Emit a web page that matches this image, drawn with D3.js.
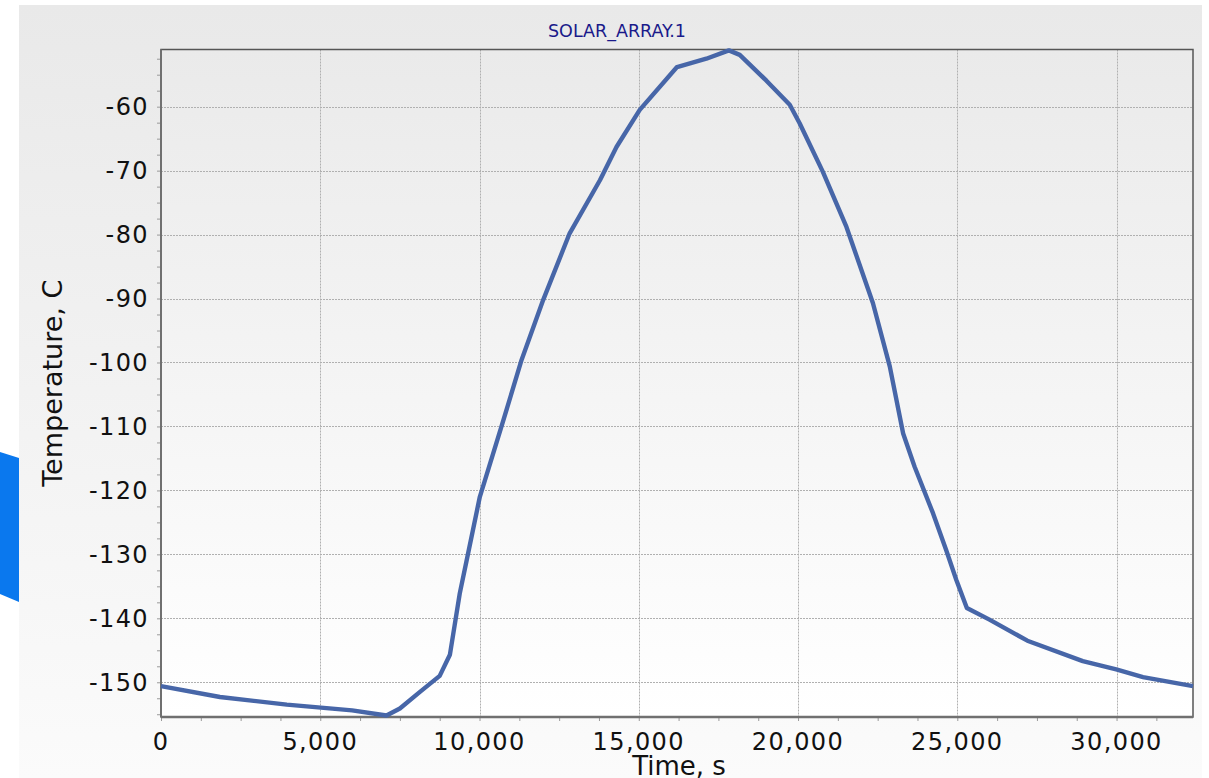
<!DOCTYPE html>
<html><head><meta charset="utf-8">
<script src="https://cdn.jsdelivr.net/npm/d3@7"></script>
<style>html,body{margin:0;padding:0;background:#fff;overflow:hidden}svg{display:block}</style>
</head><body>
<svg id="c" width="1209" height="778"></svg>
<script>
const chartTitle = "SOLAR_ARRAY.1";
const xTitle = "Time, s";
const yTitle = "Temperature, C";
const timeS = [0, 1850, 3950, 6000, 7080, 7500, 8130, 8750, 9070, 9380, 9610, 10010, 10690, 11320, 12000, 12830, 13780, 14300, 15030, 16200, 17120, 17830, 18170, 19000, 19740, 20050, 20780, 21520, 22350, 22880, 23300, 23660, 24240, 24650, 24970, 25300, 26010, 27200, 28940, 29990, 30830, 32400];
const tempC = [-150.6, -152.3, -153.5, -154.4, -155.2, -154.1, -151.5, -149.0, -145.7, -136.1, -130.6, -121.0, -110.0, -99.6, -90.2, -79.8, -71.5, -66.3, -60.5, -53.8, -52.5, -51.2, -51.9, -55.9, -59.7, -62.6, -70.2, -78.8, -90.7, -100.6, -111.1, -116.3, -123.6, -129.3, -134.0, -138.4, -140.2, -143.5, -146.7, -148.0, -149.2, -150.6];
const xTicks = [0, 5000, 10000, 15000, 20000, 25000, 30000];
const yTicks = [-60, -70, -80, -90, -100, -110, -120, -130, -140, -150];
const xDomain = [0, 32400];
const yDomain = [-155.43, -51.06];

const svg = d3.select("#c");
const L = 161, R = 1193, T = 49.5, B = 717;
const x = d3.scaleLinear().domain(xDomain).range([L, R]);
const y = d3.scaleLinear().domain(yDomain).range([B, T]);

const defs = svg.append("defs");
const g1 = defs.append("linearGradient").attr("id","outer").attr("x1",0).attr("y1",0).attr("x2",0).attr("y2",1);
g1.append("stop").attr("offset","0%").attr("stop-color","#e9e9e9");
g1.append("stop").attr("offset","100%").attr("stop-color","#fbfbfb");
const g2 = defs.append("linearGradient").attr("id","inner").attr("x1",0).attr("y1",0).attr("x2",0).attr("y2",1);
g2.append("stop").attr("offset","0%").attr("stop-color","#eaeaea");
g2.append("stop").attr("offset","100%").attr("stop-color","#ffffff");

svg.append("rect").attr("x",19).attr("y",5).attr("width",1183).attr("height",773).attr("fill","url(#outer)");
svg.append("polygon").attr("points","0,452 19,458 19,602 0,594").attr("fill","#0a78ee");
svg.append("rect").attr("x",L).attr("y",T).attr("width",R-L).attr("height",B-T).attr("fill","url(#inner)");

// grid
const grid = svg.append("g").attr("stroke","#b0b0b0").attr("stroke-width",1).attr("stroke-dasharray","2,1");
grid.selectAll("line.gx").data(xTicks.filter(d=>d>0)).join("line")
  .attr("x1",d=>Math.round(x(d))+0.5).attr("x2",d=>Math.round(x(d))+0.5).attr("y1",T).attr("y2",B);
grid.selectAll("line.gy").data(yTicks).join("line")
  .attr("y1",d=>Math.round(y(d))+0.5).attr("y2",d=>Math.round(y(d))+0.5).attr("x1",L).attr("x2",R);

// axes with minor ticks
const xMinor = d3.range(0, xDomain[1]+1, 1250);
const yMinor = d3.range(-155, -51, 2.5);
const xAxis = d3.axisBottom(x).tickValues(xMinor).tickSize(4).tickFormat("");
const yAxis = d3.axisLeft(y).tickValues(yMinor).tickSize(4).tickFormat("");
const gx = svg.append("g").attr("transform",`translate(0,${B})`).call(xAxis);
const gy = svg.append("g").attr("transform",`translate(${L},0)`).call(yAxis);
[gx, gy].forEach(g=>{ g.select(".domain").remove(); g.selectAll("line").attr("stroke","#9a9a9a"); });

// tick labels
const fmt = d3.format(",");
svg.append("g").selectAll("text").data(xTicks).join("text")
  .attr("x",d=>x(d)).attr("y",750).attr("text-anchor","middle")
  .attr("font-family","'DejaVu Sans', Verdana, sans-serif").attr("font-size",24).attr("letter-spacing","1.4px")
  .attr("fill","#111").text(d=>fmt(d));
svg.append("g").selectAll("text").data(yTicks).join("text")
  .attr("x",149).attr("y",d=>y(d)).attr("dy","0.36em").attr("text-anchor","end")
  .attr("font-family","'DejaVu Sans', Verdana, sans-serif").attr("font-size",24).attr("letter-spacing","1.4px")
  .attr("fill","#111").text(d=>fmt(d).replace("−","-"));

// frame
svg.append("rect").attr("x",L).attr("y",T).attr("width",R-L).attr("height",B-T)
  .attr("fill","none").attr("stroke","#555").attr("stroke-width",1.5);
svg.append("line").attr("x1",L).attr("x2",R).attr("y1",B).attr("y2",B).attr("stroke","#707070").attr("stroke-width",2.5);
svg.append("line").attr("x1",L).attr("x2",L).attr("y1",T).attr("y2",B).attr("stroke","#707070").attr("stroke-width",2);

// line
const data = timeS.map((t,i)=>({t, v: tempC[i]}));
svg.append("path").datum(data)
  .attr("d", d3.line().x(d=>x(d.t)).y(d=>y(d.v)))
  .attr("fill","none").attr("stroke","#4766a8").attr("stroke-width",4.4).attr("stroke-linejoin","round");

// titles
svg.append("text").attr("x",617).attr("y",37).attr("text-anchor","middle")
  .attr("font-family","'DejaVu Sans', Verdana, sans-serif").attr("font-size",17.5).attr("fill","#1a1a8a").text(chartTitle);
svg.append("text").attr("x",679).attr("y",775).attr("text-anchor","middle")
  .attr("font-family","'DejaVu Sans', Verdana, sans-serif").attr("font-size",26).attr("fill","#111").text(xTitle);
svg.append("text").attr("transform",`translate(62,${(T+B)/2}) rotate(-90)`).attr("text-anchor","middle")
  .attr("font-family","'DejaVu Sans', Verdana, sans-serif").attr("font-size",27).attr("fill","#111").text(yTitle);
</script>
</body></html>
